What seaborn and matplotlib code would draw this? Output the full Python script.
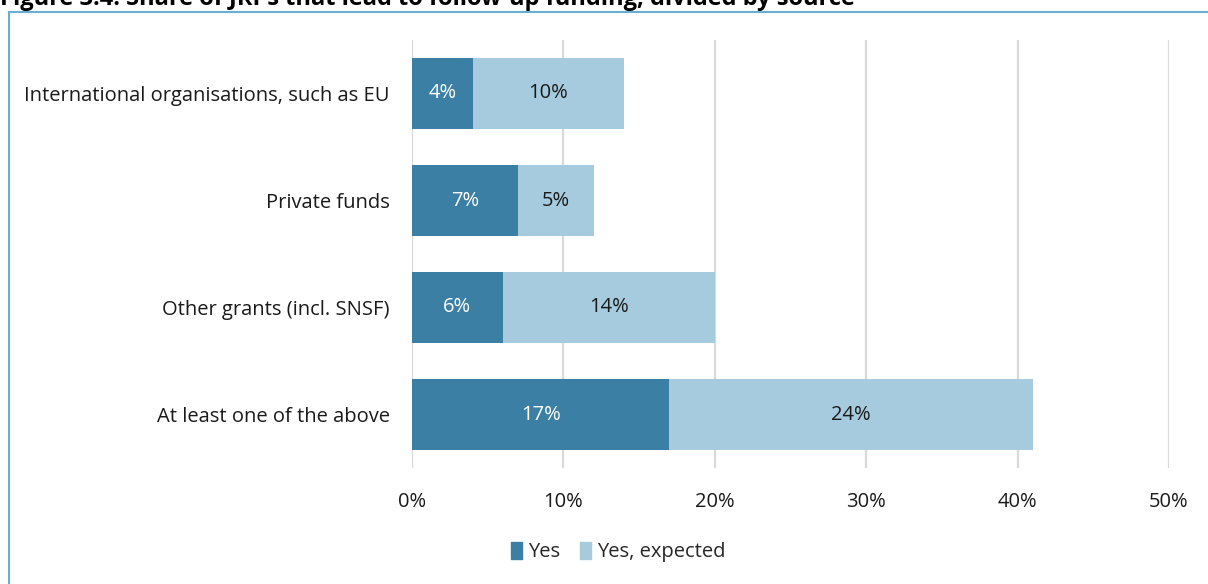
import matplotlib.pyplot as plt
import matplotlib.patches as mpatches
import pandas as pd
import seaborn as sns

# data
sources = ["International organisations, such as EU", "Private funds",
           "Other grants (incl. SNSF)", "At least one of the above"]
yes = [4, 7, 6, 17]
yes_expected = [10, 5, 14, 24]
x_ticks = [0, 10, 20, 30, 40, 50]

dark = "#3B80A4"
light = "#A6CBDF"

sns.set_theme(style="white")
plt.rcParams['font.family'] = ['Open Sans', 'DejaVu Sans']

df = pd.DataFrame({"source": sources, "yes": yes, "expected": yes_expected})
df["total"] = df["yes"] + df["expected"]

fig = plt.figure(figsize=(12.08, 5.84), dpi=100)
ax = fig.add_axes([412 / 1208, 1 - 468 / 584, (1169 - 412) / 1208, 428 / 584])

# stacked: full bar in light colour, "yes" part over it
sns.barplot(data=df, y="source", x="total", color=light, width=0.66,
            orient="h", ax=ax, zorder=2, saturation=1, linewidth=0)
sns.barplot(data=df, y="source", x="yes", color=dark, width=0.66,
            orient="h", ax=ax, zorder=3, saturation=1, linewidth=0)

for i, row in df.iterrows():
    ax.text(row["yes"] / 2, i, f"{row['yes']}%", ha="center", va="center",
            color="white", fontsize=14.5, zorder=4)
    ax.text(row["yes"] + row["expected"] / 2, i, f"{row['expected']}%",
            ha="center", va="center", color="#1a1a1a", fontsize=14.5, zorder=4)

ax.set_xlim(0, 50)
ax.set_ylim(3.5, -0.5)
ax.set_xticks(x_ticks)
ax.set_xticklabels([f"{t}%" for t in x_ticks], fontsize=14.5, color="#1a1a1a")
ax.tick_params(axis="y", labelsize=14.5, labelcolor="#1a1a1a", pad=16, length=0)
ax.tick_params(axis="x", pad=17, length=0)
ax.set_xlabel("")
ax.set_ylabel("")
ax.grid(axis="x", color="#D9D9D9", linewidth=1.6, zorder=0)
ax.set_axisbelow(True)
for s in ax.spines.values():
    s.set_visible(False)

handles = [mpatches.Patch(color=dark, label="Yes"),
           mpatches.Patch(color=light, label="Yes, expected")]
fig.legend(handles=handles, loc="center", bbox_to_anchor=(618 / 1208, 1 - 552 / 584),
           ncol=2, frameon=False, fontsize=14.5, handlelength=0.55, handleheight=0.9,
           handletextpad=0.3, columnspacing=1.0)

# frame round the chart, cut at the bottom and right like the source
fig.patches.append(mpatches.Rectangle((9 / 1208, -0.2), 1.2, 1 - 12 / 584 + 0.2,
                                      transform=fig.transFigure, fill=False,
                                      edgecolor="#6AAED6", linewidth=1.5))

# title, only the lower half shows in the source
fig.text(0.0, 1 - 5 / 584,
         "Figure 3.4: Share of JRPs that lead to follow-up funding, divided by source",
         ha="left", va="baseline", fontsize=17, fontweight="bold", color="black")

fig.savefig("out.png", dpi=100)
